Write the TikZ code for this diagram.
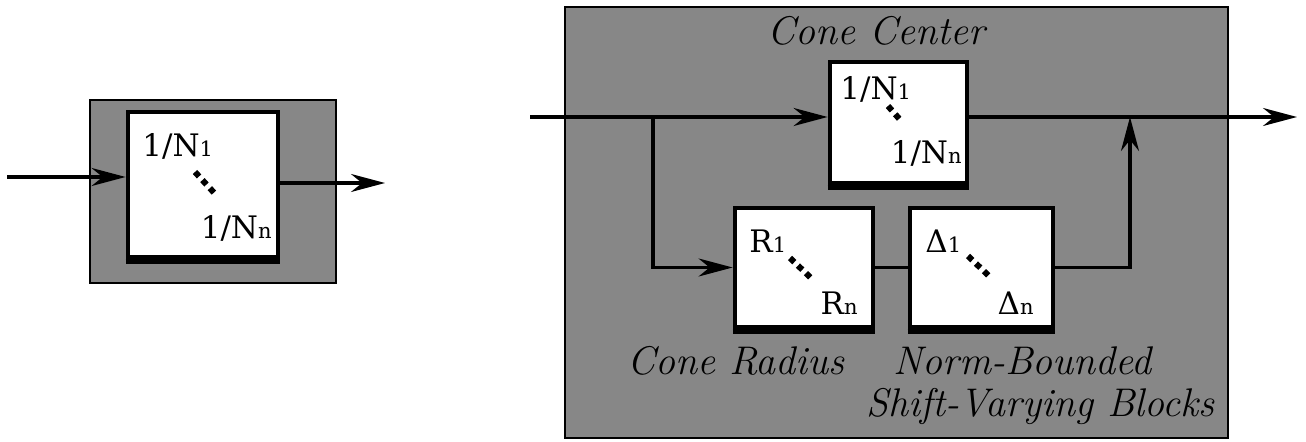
\documentclass[tikz,border=0pt]{standalone}
\usepackage{fontspec}
\setmainfont{DejaVu Serif}
\newfontfamily\labelfont{Latin Modern Roman}
\usetikzlibrary{arrows.meta}
\newcommand{\mysub}[1]{{\fontsize{10.5}{10.5}\selectfont #1}}
\begin{document}
\begin{tikzpicture}[x=0.5pt,y=-0.5pt,
  shadedbg/.style={fill=black!47, draw=black, line width=1pt},
  blk/.style={draw=black, fill=white, line width=2.4pt, inner sep=0pt},
  wire/.style={line width=1.6pt},
  arr/.style={wire, -{Stealth[length=17pt,width=9pt]}},
  dotsln/.style={line width=3pt, dash pattern=on 3pt off 2.5pt},
  lbl/.style={font=\fontsize{15.5}{18}\selectfont, inner sep=0pt},
  ital/.style={font=\labelfont\fontsize{20}{23}\selectfont\itshape, inner sep=0pt},
  shadowbar/.style={line width=2.4pt}]
\useasboundingbox (0,0) rectangle (1306,442);
% ---------- left diagram ----------
\draw[shadedbg] (90,100) rectangle (336,283);
\node[blk, minimum width=75pt, minimum height=72.5pt] (A) at (203,184.5) {};
\draw[shadowbar] ([yshift=-1.2pt]A.south west) -- ([yshift=-1.2pt]A.south east);
\coordinate (inL) at (7,177);
\coordinate (outL) at (385,183);
\draw[arr] (inL) -- (inL -| A.west);
\draw[arr] (outL -| A.east) -- (outL);
\node[lbl, anchor=base west] (a1) at (142,157) {1/N\mysub{1}};
\node[lbl, anchor=base east] (an) at (272,239) {1/N\mysub{n}};
\draw[dotsln] (195,172) -- (217,196);
% ---------- right diagram ----------
\draw[shadedbg] (565,7) rectangle (1228,438);
\node[blk, minimum width=68.5pt, minimum height=60.5pt] (C) at (898.5,122.5) {};
\node[blk, minimum width=69pt, minimum height=59.5pt] (R) at (804,267.5) {};
\node[blk, minimum width=71.5pt, minimum height=59.5pt] (D) at (981.5,267.5) {};
\foreach \b in {C,R,D}
  \draw[shadowbar] ([yshift=-1.2pt]\b.south west) -- ([yshift=-1.2pt]\b.south east);
\coordinate (inR) at (530,117);
\coordinate (br) at (653,117);
\coordinate (up) at (1130,117);
\coordinate (outR) at (1297,117);
\draw[arr] (inR) -- (inR -| C.west);
\draw[arr] (br) |- (R.west);
\draw[wire] (R.east) -- (D.west);
\draw[arr] (D.east) -| (up);
\draw[arr] (outR -| C.east) -- (outR);
% texts in boxes
\node[lbl, anchor=base west] (c1) at (840,100) {1/N\mysub{1}};
\node[lbl, anchor=base east] (cn) at (962,164) {1/N\mysub{n}};
\draw[dotsln] (888,106) -- (902,122);
\node[lbl, anchor=base west] (r1) at (749,253) {R\mysub{1}};
\node[lbl, anchor=base east] (rn) at (858,315) {R\mysub{n}};
\draw[dotsln] (790,258) -- (812,279);
\node[lbl, anchor=base west] (d1) at (925,253) {Δ\mysub{1}};
\node[lbl, anchor=base east] (dn) at (1034,315) {Δ\mysub{n}};
\draw[dotsln] (968,256) -- (990,277);
% labels
\node[ital, anchor=base east] (lc) at (985,45) {Cone Center};
\node[ital, anchor=base east] (lr) at (845,375) {Cone Radius};
\node[ital, anchor=base west] (ln) at (893,375) {Norm-Bounded};
\node[ital, anchor=base east] (ls) at (1215,417) {Shift-Varying Blocks};
\end{tikzpicture}
\end{document}
